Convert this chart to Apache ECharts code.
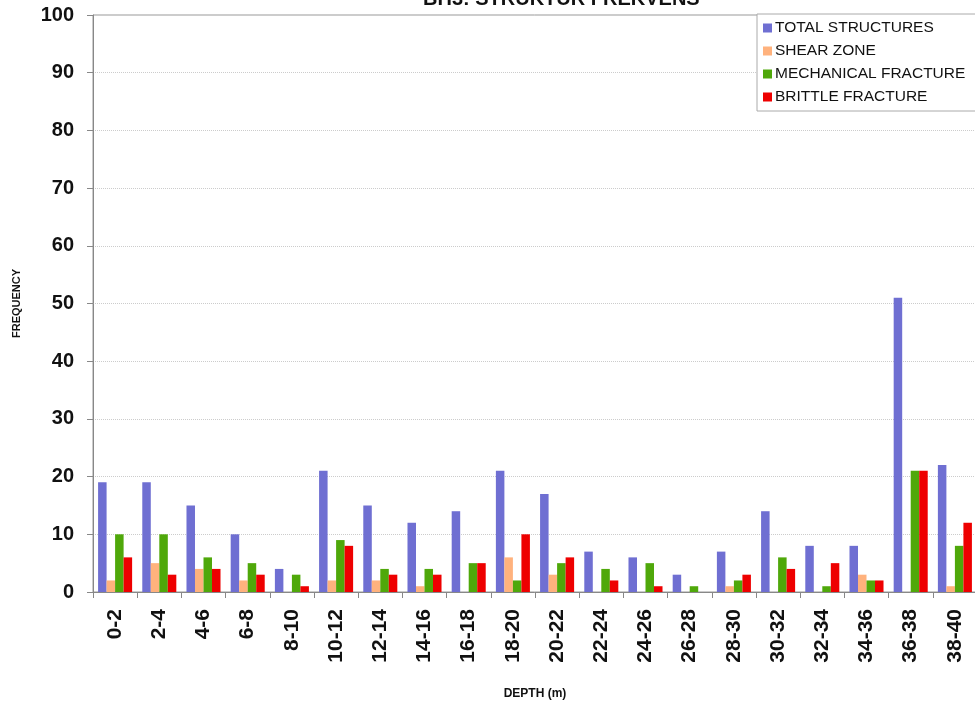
<!DOCTYPE html>
<html><head><meta charset="utf-8">
<script src="https://cdn.jsdelivr.net/npm/echarts@6/dist/echarts.min.js"></script>
<style>html,body{margin:0;padding:0;background:#fff}#c{width:975px;height:702px}</style>
</head><body><div id="c"></div>
<script>
const categories = ['0-2','2-4','4-6','6-8','8-10','10-12','12-14','14-16','16-18','18-20','20-22','22-24','24-26','26-28','28-30','30-32','32-34','34-36','36-38','38-40'];
const totalStructures = [19,19,15,10,4,21,15,12,14,21,17,7,6,3,7,14,8,8,51,22];
const shearZone = [2,5,4,2,0,2,2,1,0,6,3,0,0,0,1,0,0,3,0,1];
const mechanicalFracture = [10,10,6,5,3,9,4,4,5,2,5,4,5,1,2,6,1,2,21,8];
const brittleFracture = [6,3,4,3,1,8,3,3,5,10,6,2,1,0,3,4,5,2,21,12];
const yTicks = [0,10,20,30,40,50,60,70,80,90,100];

const chart = echarts.init(document.getElementById('c'));
const mk = (name, data, color) => ({name, type:'bar', data, itemStyle:{color}, barGap:'0%', barCategoryGap:'23%'});
chart.setOption({
  animation:false,
  graphic:[{type:'text', left:423, top:-11, style:{text:'BH3: STRUKTUR FREKVENS', font:'bold 20px Arial', fill:'#111'}}],
  legend:{
    orient:'vertical', left:757, top:14, itemWidth:9, itemHeight:9, itemGap:7,
    padding:[6,12,6,6], borderColor:'#aaa', borderWidth:1, backgroundColor:'#fff',
    textStyle:{fontFamily:'Arial', fontSize:15.5, color:'#111', padding:[0,0,0,-2]},
    icon:'rect',
    data:['TOTAL STRUCTURES','SHEAR ZONE','MECHANICAL FRACTURE','BRITTLE FRACTURE']
  },
  grid:{left:93, right:-2, top:15, bottom:110, show:true, borderColor:'#999', borderWidth:1, outerBoundsMode:'none'},
  xAxis:{
    type:'category', data:categories, boundaryGap:true,
    name:'DEPTH (m)', nameLocation:'middle', nameGap:96,
    nameTextStyle:{fontFamily:'Arial', fontWeight:'bold', fontSize:12, color:'#111'},
    axisLine:{lineStyle:{color:'#888'}},
    axisTick:{show:true, length:6, lineStyle:{color:'#888'}},
    axisLabel:{rotate:90, interval:0, fontFamily:'Arial', fontWeight:'bold', fontSize:21, color:'#111', margin:17}
  },
  yAxis:{
    type:'value', min:0, max:100, interval:10,
    name:'FREQUENCY', nameLocation:'middle', nameGap:71, nameRotate:90,
    nameTextStyle:{fontFamily:'Arial', fontWeight:'bold', fontSize:11, color:'#111'},
    axisLine:{show:true, lineStyle:{color:'#888'}},
    axisTick:{show:true, length:6, lineStyle:{color:'#888'}},
    axisLabel:{fontFamily:'Arial', fontWeight:'bold', fontSize:20, color:'#111', margin:19,
      formatter:v=>yTicks.includes(v)?String(v):''},
    splitLine:{show:true, lineStyle:{color:'#ccc', type:'dotted'}}
  },
  series:[
    mk('TOTAL STRUCTURES', totalStructures, '#6f6fd2'),
    mk('SHEAR ZONE', shearZone, '#ffb27d'),
    mk('MECHANICAL FRACTURE', mechanicalFracture, '#4fa80a'),
    mk('BRITTLE FRACTURE', brittleFracture, '#ee0000')
  ]
});
</script></body></html>
